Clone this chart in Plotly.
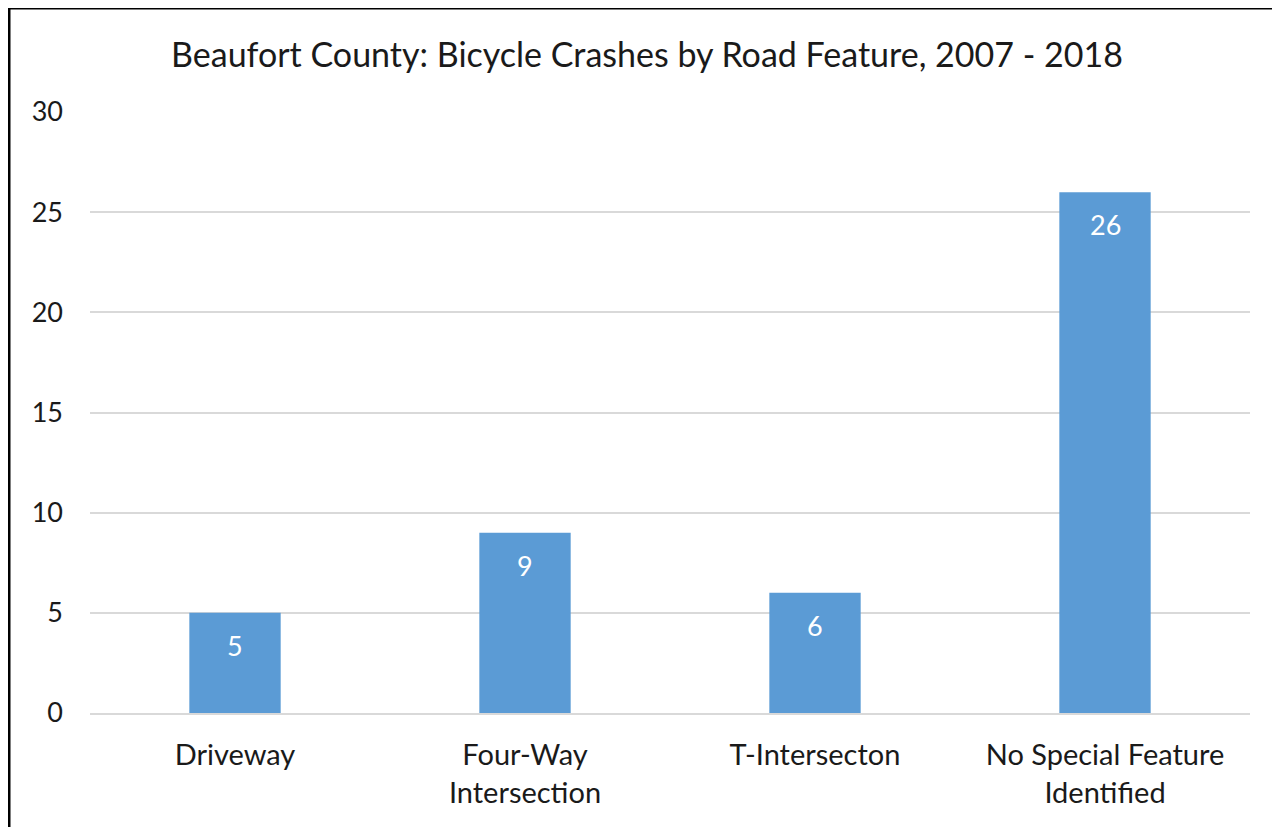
import plotly.graph_objects as go

categories = ["Driveway", "Four-Way<br>Intersection", "T-Intersecton", "No Special Feature<br>Identified"]
crashes = [5, 9, 6, 26]
y_ticks = [0, 5, 10, 15, 20, 25, 30]
title_text = "Beaufort County: Bicycle Crashes by Road Feature, 2007 - 2018"

FONT = "Lato"
BAR_COLOR = "#5B9BD5"
GRID = "#D9D9D9"
TEXT = "#1a1a1a"

W, H = 1272, 819          # page has an 8px body margin
L, T, R, B = 82, 104, 30, 114   # plot area: x 82..1242, y 104..705

fig = go.Figure()
fig.add_trace(go.Bar(
    x=categories, y=crashes,
    marker=dict(color=BAR_COLOR, line=dict(width=0)),
    width=0.315,
    hoverinfo="x+y",
))

for c, v in zip(categories, crashes):
    fig.add_annotation(
        x=c, y=v, xref="x", yref="y",
        text=str(v), showarrow=False,
        yanchor="top", yshift=-14,
        font=dict(family=FONT, size=27, color="white"),
    )

fig.update_layout(
    width=W, height=H,
    margin=dict(l=L, r=R, t=T, b=B, autoexpand=False),
    paper_bgcolor="white", plot_bgcolor="white",
    showlegend=False,
    title=dict(
        text=title_text, x=639 / W, xanchor="center", xref="container",
        y=1 - 47 / H, yanchor="middle", yref="container",
        font=dict(family=FONT, size=34, color=TEXT),
    ),
    font=dict(family=FONT, color=TEXT),
    xaxis=dict(
        showgrid=False, showline=True, linecolor=GRID, linewidth=2,
        ticks="", tickfont=dict(family=FONT, size=29, color=TEXT),
        ticklabelstandoff=15, fixedrange=True,
    ),
    yaxis=dict(
        range=[0, 30], tickvals=y_ticks, ticktext=[str(t) for t in y_ticks],
        showgrid=True, gridcolor=GRID, gridwidth=2,
        showline=False, zeroline=False, ticks="",
        tickfont=dict(family=FONT, size=27, color=TEXT),
        ticklabelstandoff=26, fixedrange=True,
    ),
)

# outer border (left and top edges visible, rest cropped)
pw, ph = W - L - R, H - T - B
fig.add_shape(
    type="rect", xref="paper", yref="paper",
    x0=(1 - L) / pw, x1=(W + 20 - L) / pw,
    y0=(H - B - (H + 20)) / ph, y1=(H - B - 0) / ph,
    line=dict(color="black", width=3), fillcolor="rgba(0,0,0,0)", layer="above",
)

fig.write_html("out.html")
